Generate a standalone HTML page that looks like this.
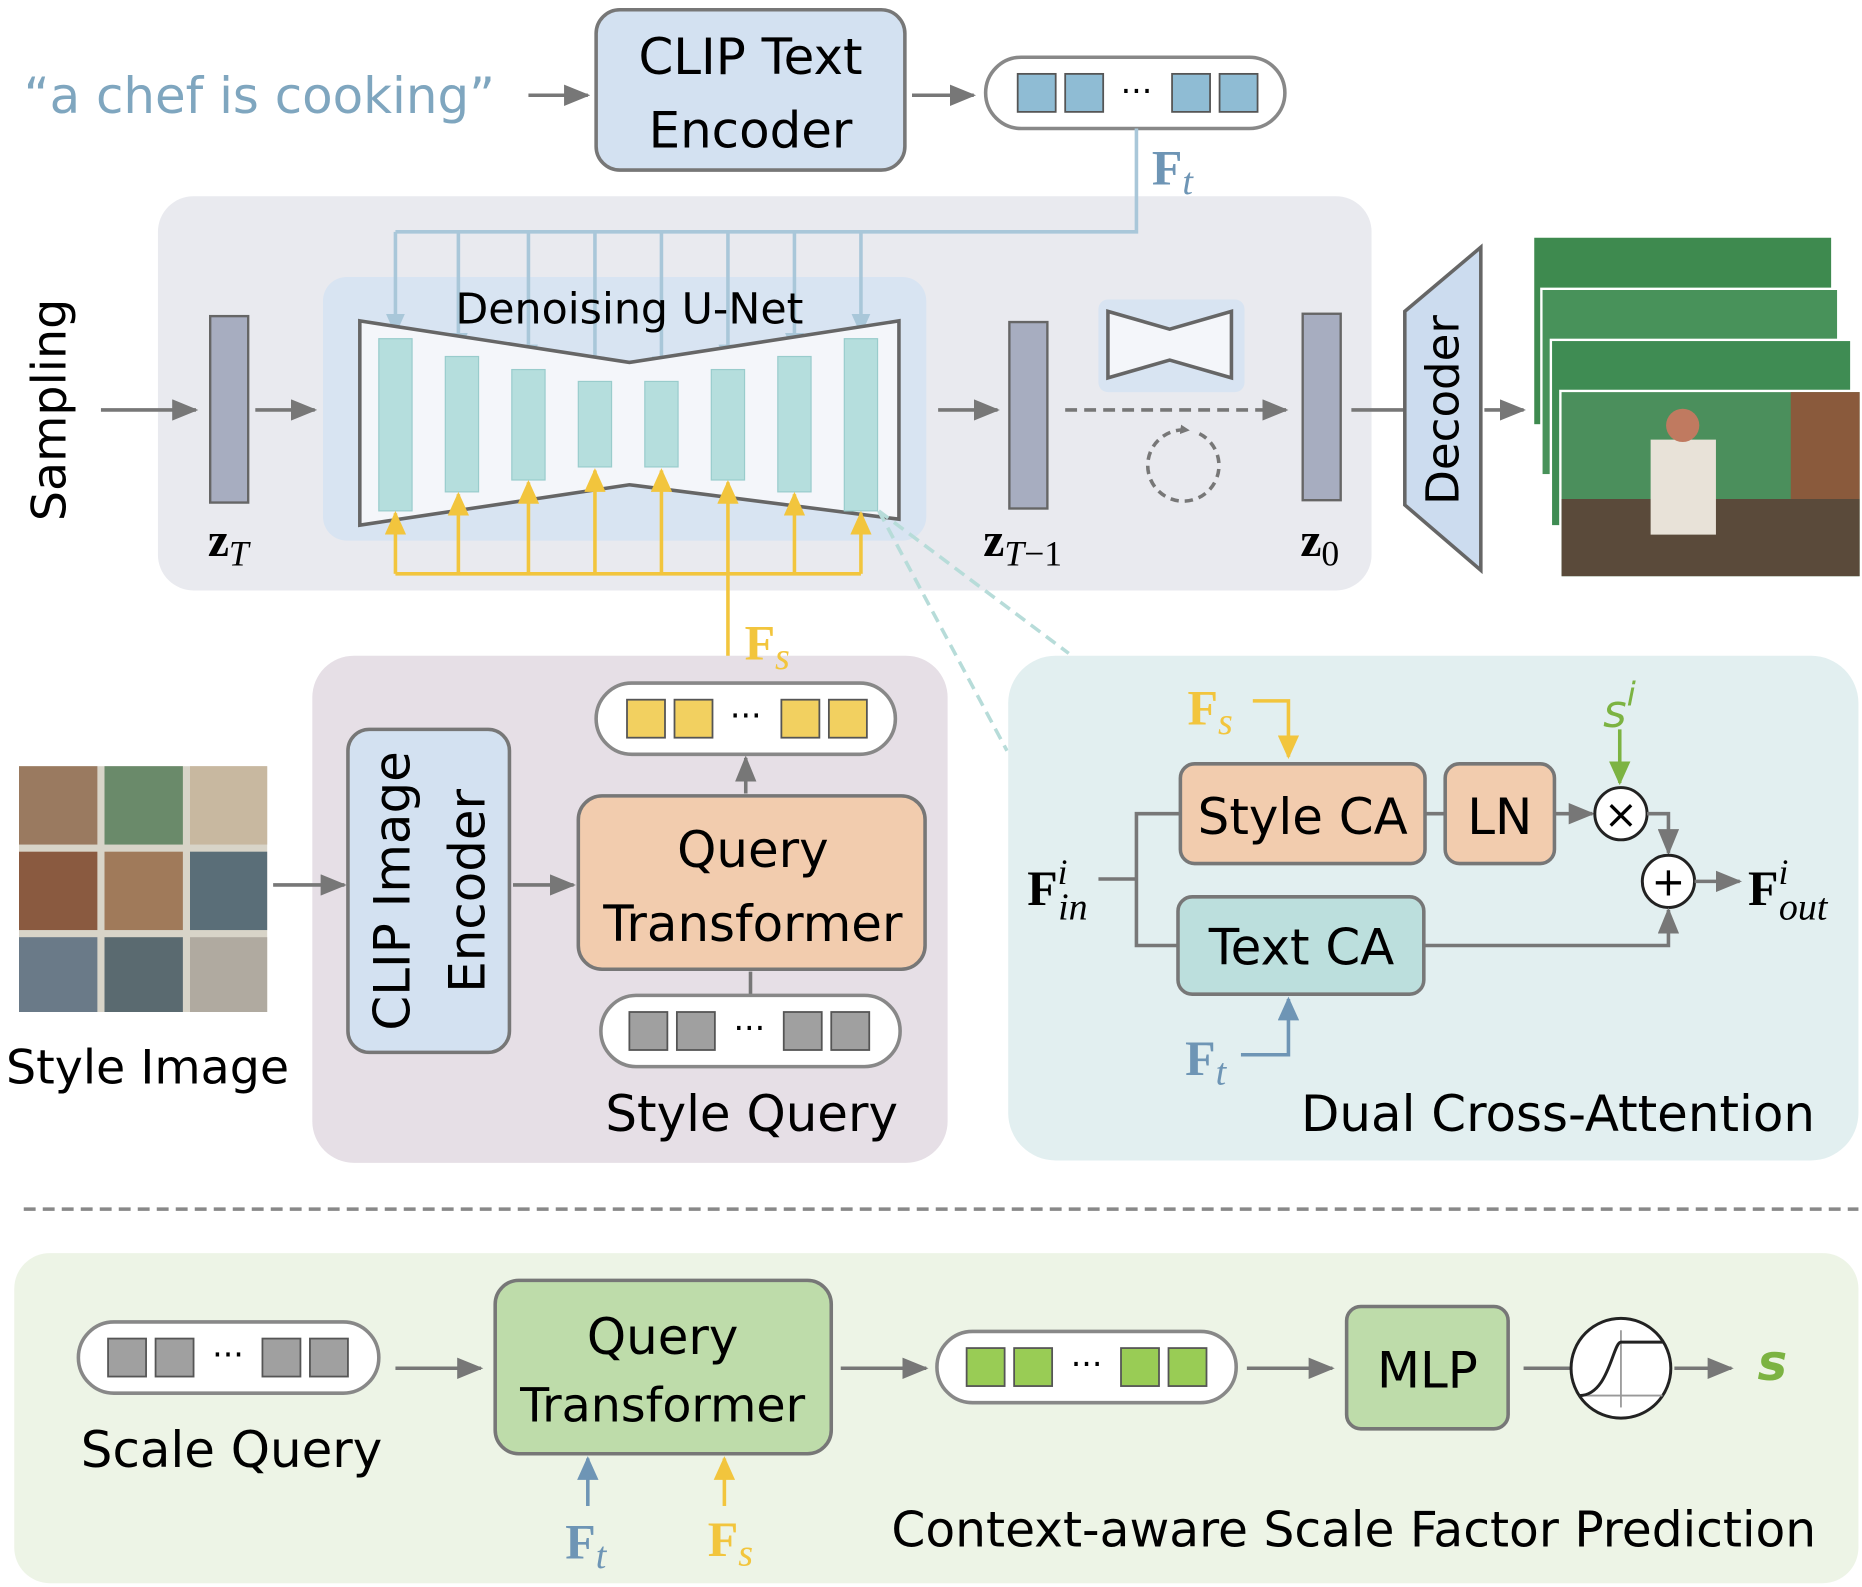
<!DOCTYPE html>
<html><head><meta charset="utf-8"><style>
html,body{margin:0;padding:0;background:#fff}
svg{display:block}
text{font-family:"DejaVu Sans","Liberation Sans",sans-serif}
.s{font-family:"Liberation Serif",serif;font-weight:bold}
</style></head><body>
<svg width="1862" height="1587" viewBox="0 0 1568 1336" xmlns="http://www.w3.org/2000/svg">
<defs>
<marker id="ag" markerWidth="8" markerHeight="8" refX="6" refY="4" orient="auto" markerUnits="userSpaceOnUse" viewBox="0 0 8 8"><path d="M0,0L8,4L0,8z" fill="#777"/></marker>
<marker id="agb" markerWidth="22" markerHeight="18" refX="20" refY="9" orient="auto" markerUnits="userSpaceOnUse"><path d="M0,0L22,9L0,18z" fill="#777"/></marker>
<marker id="ab" markerWidth="18" markerHeight="16" refX="16" refY="8" orient="auto" markerUnits="userSpaceOnUse"><path d="M0,0L18,8L0,16z" fill="#a9c7d9"/></marker>
<marker id="ab2" markerWidth="20" markerHeight="18" refX="18" refY="9" orient="auto" markerUnits="userSpaceOnUse"><path d="M0,0L20,9L0,18z" fill="#6e95b5"/></marker>
<marker id="ay" markerWidth="20" markerHeight="18" refX="18" refY="9" orient="auto" markerUnits="userSpaceOnUse"><path d="M0,0L20,9L0,18z" fill="#f2c53d"/></marker>
<marker id="agr" markerWidth="20" markerHeight="18" refX="18" refY="9" orient="auto" markerUnits="userSpaceOnUse"><path d="M0,0L20,9L0,18z" fill="#7cb342"/></marker>
</defs>

<!-- top -->
<text x="20" y="95" font-size="42" fill="#7fa6bf">“a chef is cooking”</text>
<line x1="445" y1="80" x2="495" y2="80" stroke="#777" stroke-width="3" marker-end="url(#agb)"/>
<rect x="502" y="8" width="260" height="135" rx="20" fill="#d3e1f1" stroke="#777" stroke-width="3"/>
<text x="632" y="62" font-size="42" text-anchor="middle">CLIP Text</text>
<text x="632" y="124" font-size="42" text-anchor="middle">Encoder</text>
<line x1="768" y1="80" x2="820" y2="80" stroke="#777" stroke-width="3" marker-end="url(#agb)"/>
<rect x="830" y="48" width="252" height="60" rx="30" fill="#fff" stroke="#888" stroke-width="3"/>
<g fill="#8fbcd4" stroke="#555" stroke-width="1.5"><rect x="857" y="62" width="32" height="32"/><rect x="897" y="62" width="32" height="32"/><rect x="987" y="62" width="32" height="32"/><rect x="1027" y="62" width="32" height="32"/></g>
<text x="957" y="86" font-size="28" text-anchor="middle">···</text>
<text x="970" y="155" font-size="42" class="s" fill="#6e95b5">F<tspan font-style="italic" font-weight="normal" font-size="32" dy="8">t</tspan></text>

<!-- big grey -->
<rect x="133" y="165" width="1022" height="332" rx="30" fill="#e9eaef"/>
<rect x="272" y="233" width="508" height="222" rx="20" fill="#d8e4f2"/>
<polyline points="957,108 957,195 333,195" fill="none" stroke="#a9c7d9" stroke-width="3"/>
<g stroke="#a9c7d9" stroke-width="3" marker-end="url(#ab)">
<line x1="333" y1="195" x2="333" y2="280"/><line x1="386" y1="195" x2="386" y2="296"/><line x1="445" y1="195" x2="445" y2="306"/><line x1="501" y1="195" x2="501" y2="316"/><line x1="557" y1="195" x2="557" y2="316"/><line x1="613" y1="195" x2="613" y2="306"/><line x1="669" y1="195" x2="669" y2="296"/><line x1="725" y1="195" x2="725" y2="280"/></g>
<text x="530" y="272" font-size="36" text-anchor="middle">Denoising U-Net</text>
<polygon points="303,270 530,305 757,270 757,437 530,408 303,442" fill="#f4f6fa" stroke="#666" stroke-width="3"/>
<g fill="#b5dedd" stroke="#9cc" stroke-width="1">
<rect x="319" y="285" width="28" height="145"/><rect x="375" y="300" width="28" height="114"/><rect x="431" y="311" width="28" height="93"/><rect x="487" y="321" width="28" height="72"/><rect x="543" y="321" width="28" height="72"/><rect x="599" y="311" width="28" height="93"/><rect x="655" y="300" width="28" height="114"/><rect x="711" y="285" width="28" height="145"/></g>
<polyline points="613,575 613,483" fill="none" stroke="#f2c53d" stroke-width="3"/>
<line x1="333" y1="483" x2="725" y2="483" stroke="#f2c53d" stroke-width="3"/>
<g stroke="#f2c53d" stroke-width="3" marker-end="url(#ay)">
<line x1="333" y1="483" x2="333" y2="432"/><line x1="386" y1="483" x2="386" y2="416"/><line x1="445" y1="483" x2="445" y2="406"/><line x1="501" y1="483" x2="501" y2="396"/><line x1="557" y1="483" x2="557" y2="396"/><line x1="613" y1="483" x2="613" y2="406"/><line x1="669" y1="483" x2="669" y2="416"/><line x1="725" y1="483" x2="725" y2="432"/></g>
<text transform="translate(55,345) rotate(-90)" font-size="40" text-anchor="middle">Sampling</text>
<line x1="85" y1="345" x2="165" y2="345" stroke="#777" stroke-width="3" marker-end="url(#agb)"/>
<rect x="177" y="266" width="32" height="157" fill="#a7adc0" stroke="#666" stroke-width="2"/>
<line x1="215" y1="345" x2="265" y2="345" stroke="#777" stroke-width="3" marker-end="url(#agb)"/>
<text x="175" y="468" font-size="40" class="s">z<tspan font-style="italic" font-weight="normal" font-size="30" dy="8">T</tspan></text>
<line x1="790" y1="345" x2="840" y2="345" stroke="#777" stroke-width="3" marker-end="url(#agb)"/>
<rect x="850" y="271" width="32" height="157" fill="#a7adc0" stroke="#666" stroke-width="2"/>
<text x="828" y="468" font-size="40" class="s">z<tspan font-weight="normal" font-size="30" dy="8" font-style="italic">T</tspan><tspan font-weight="normal" font-size="30">−1</tspan></text>
<rect x="925" y="252" width="123" height="78" rx="8" fill="#d8e4f2"/>
<polygon points="933,262 985,277 1037,262 1037,318 985,303 933,318" fill="#f4f6fa" stroke="#666" stroke-width="3"/>
<line x1="897" y1="345" x2="1083" y2="345" stroke="#777" stroke-width="3" stroke-dasharray="10,6" marker-end="url(#agb)"/>
<path d="M1010,365 A30,30 0 1 1 1000,362" fill="none" stroke="#777" stroke-width="3" stroke-dasharray="7,5" marker-end="url(#ag)"/>
<rect x="1097" y="264" width="32" height="157" fill="#a7adc0" stroke="#666" stroke-width="2"/>
<text x="1095" y="468" font-size="40" class="s">z<tspan font-weight="normal" font-size="30" dy="8">0</tspan></text>
<line x1="1138" y1="345" x2="1182" y2="345" stroke="#777" stroke-width="3"/>
<polygon points="1183,262 1247,208 1247,480 1183,425" fill="#ccdcef" stroke="#666" stroke-width="3"/>
<text transform="translate(1228,345) rotate(-90)" font-size="38" text-anchor="middle">Decoder</text>
<line x1="1250" y1="345" x2="1283" y2="345" stroke="#777" stroke-width="3" marker-end="url(#agb)"/>
<g>
<rect x="1292" y="200" width="250" height="157" fill="#3e8a4f"/>
<rect x="1297" y="242" width="250" height="157" fill="#fff"/><rect x="1299" y="244" width="248" height="155" fill="#48925a"/>
<rect x="1305" y="285" width="253" height="157" fill="#fff"/><rect x="1307" y="287" width="251" height="155" fill="#3f8c53"/>
<rect x="1313" y="328" width="253" height="157" fill="#fff"/><rect x="1315" y="330" width="251" height="155" fill="#4b8f5c"/>
<rect x="1315" y="420" width="251" height="65" fill="#5a4a3a"/>
<rect x="1390" y="370" width="55" height="80" fill="#e8e2d8"/>
<circle cx="1417" cy="358" r="14" fill="#c07a60"/>
<rect x="1508" y="330" width="58" height="90" fill="#8a5a3c"/>
</g>
<line x1="740" y1="430" x2="900" y2="550" stroke="#b7dcd9" stroke-width="3" stroke-dasharray="10,6"/>
<line x1="740" y1="430" x2="848" y2="632" stroke="#b7dcd9" stroke-width="3" stroke-dasharray="10,6"/>

<!-- style panel -->
<rect x="263" y="552" width="535" height="427" rx="35" fill="#e6dfe6"/>
<g>
<rect x="16" y="645" width="209" height="207" fill="#d8d4c8"/>
<rect x="16" y="645" width="66" height="66" fill="#9a7a60"/><rect x="88" y="645" width="66" height="66" fill="#6a8a6a"/><rect x="160" y="645" width="65" height="66" fill="#c8b8a0"/>
<rect x="16" y="717" width="66" height="66" fill="#8a5a40"/><rect x="88" y="717" width="66" height="66" fill="#a07a5a"/><rect x="160" y="717" width="65" height="66" fill="#5a6e78"/>
<rect x="16" y="789" width="66" height="63" fill="#6a7a88"/><rect x="88" y="789" width="66" height="63" fill="#5a6a70"/><rect x="160" y="789" width="65" height="63" fill="#b0aaa0"/>
</g>
<text x="5" y="912" font-size="40">Style Image</text>
<line x1="230" y1="745" x2="290" y2="745" stroke="#777" stroke-width="3" marker-end="url(#agb)"/>
<rect x="293" y="614" width="136" height="272" rx="18" fill="#d3e1f1" stroke="#777" stroke-width="3"/>
<text transform="translate(345,750) rotate(-90)" font-size="42" text-anchor="middle">CLIP Image</text>
<text transform="translate(408,750) rotate(-90)" font-size="42" text-anchor="middle">Encoder</text>
<line x1="432" y1="745" x2="483" y2="745" stroke="#777" stroke-width="3" marker-end="url(#agb)"/>
<rect x="487" y="670" width="292" height="146" rx="20" fill="#f2ccae" stroke="#777" stroke-width="3"/>
<text x="634" y="730" font-size="42" text-anchor="middle">Query</text>
<text x="634" y="792" font-size="42" text-anchor="middle">Transformer</text>
<line x1="628" y1="668" x2="628" y2="638" stroke="#777" stroke-width="3" marker-end="url(#agb)"/>
<rect x="502" y="575" width="252" height="60" rx="30" fill="#fff" stroke="#888" stroke-width="3"/>
<g fill="#f2d060" stroke="#555" stroke-width="1.5"><rect x="528" y="589" width="32" height="32"/><rect x="568" y="589" width="32" height="32"/><rect x="658" y="589" width="32" height="32"/><rect x="698" y="589" width="32" height="32"/></g>
<text x="628" y="612" font-size="28" text-anchor="middle">···</text>
<text x="627" y="555" font-size="42" class="s" fill="#f2c53d">F<tspan font-style="italic" font-weight="normal" font-size="32" dy="8">s</tspan></text>
<line x1="632" y1="818" x2="632" y2="838" stroke="#777" stroke-width="3"/>
<rect x="506" y="838" width="252" height="60" rx="30" fill="#fff" stroke="#888" stroke-width="3"/>
<g fill="#a0a0a0" stroke="#555" stroke-width="1.5"><rect x="530" y="852" width="32" height="32"/><rect x="570" y="852" width="32" height="32"/><rect x="660" y="852" width="32" height="32"/><rect x="700" y="852" width="32" height="32"/></g>
<text x="631" y="875" font-size="28" text-anchor="middle">···</text>
<text x="633" y="952" font-size="42" text-anchor="middle">Style Query</text>

<!-- dual CA -->
<rect x="849" y="552" width="716" height="425" rx="40" fill="#e2eff0"/>
<text x="1000" y="610" font-size="42" class="s" fill="#f2c53d">F<tspan font-style="italic" font-weight="normal" font-size="32" dy="8">s</tspan></text>
<polyline points="1055,590 1085,590 1085,637" fill="none" stroke="#f2c53d" stroke-width="3" marker-end="url(#ay)"/>
<rect x="994" y="643" width="206" height="84" rx="12" fill="#f2ccae" stroke="#777" stroke-width="3"/>
<text x="1097" y="702" font-size="42" text-anchor="middle">Style CA</text>
<line x1="1200" y1="685" x2="1217" y2="685" stroke="#777" stroke-width="3"/>
<rect x="1217" y="643" width="92" height="84" rx="12" fill="#f2ccae" stroke="#777" stroke-width="3"/>
<text x="1263" y="702" font-size="42" text-anchor="middle">LN</text>
<text x="1350" y="612" font-size="38" font-style="italic" fill="#7cb342" font-family="Liberation Serif,serif">s<tspan font-size="28" dy="-18">i</tspan></text>
<line x1="1364" y1="614" x2="1364" y2="659" stroke="#7cb342" stroke-width="3" marker-end="url(#agr)"/>
<line x1="1309" y1="685" x2="1341" y2="685" stroke="#777" stroke-width="3" marker-end="url(#agb)"/>
<circle cx="1365" cy="685" r="22" fill="#fff" stroke="#222" stroke-width="2.5"/>
<text x="1365" y="697" font-size="34" text-anchor="middle">×</text>
<polyline points="1387,685 1405,685 1405,718" fill="none" stroke="#777" stroke-width="3" marker-end="url(#agb)"/>
<circle cx="1405" cy="742" r="22" fill="#fff" stroke="#222" stroke-width="2.5"/>
<text x="1405" y="754" font-size="34" text-anchor="middle">+</text>
<rect x="992" y="755" width="207" height="82" rx="12" fill="#bcdfdd" stroke="#777" stroke-width="3"/>
<text x="1096" y="812" font-size="42" text-anchor="middle">Text CA</text>
<polyline points="1200,796 1405,796 1405,766" fill="none" stroke="#777" stroke-width="3" marker-end="url(#agb)"/>
<text x="865" y="762" font-size="42" class="s">F<tspan font-style="italic" font-weight="normal" font-size="30" dy="-18">i</tspan><tspan font-style="italic" font-weight="normal" font-size="32" dx="-8" dy="30">in</tspan></text>
<polyline points="925,740 957,740" fill="none" stroke="#777" stroke-width="3"/>
<polyline points="994,685 957,685 957,796 992,796" fill="none" stroke="#777" stroke-width="3"/>
<text x="998" y="905" font-size="42" class="s" fill="#6e95b5">F<tspan font-style="italic" font-weight="normal" font-size="32" dy="8">t</tspan></text>
<polyline points="1045,888 1085,888 1085,841" fill="none" stroke="#6e95b5" stroke-width="3" marker-end="url(#ab2)"/>
<line x1="1427" y1="742" x2="1465" y2="742" stroke="#777" stroke-width="3" marker-end="url(#agb)"/>
<text x="1472" y="762" font-size="42" class="s">F<tspan font-style="italic" font-weight="normal" font-size="30" dy="-18">i</tspan><tspan font-style="italic" font-weight="normal" font-size="32" dx="-8" dy="30">out</tspan></text>
<text x="1312" y="952" font-size="42" text-anchor="middle">Dual Cross-Attention</text>

<line x1="20" y1="1018" x2="1565" y2="1018" stroke="#888" stroke-width="3" stroke-dasharray="10,6"/>

<!-- bottom -->
<rect x="12" y="1055" width="1553" height="278" rx="30" fill="#edf4e6"/>
<rect x="66" y="1113" width="253" height="60" rx="30" fill="#fff" stroke="#888" stroke-width="3"/>
<g fill="#a0a0a0" stroke="#555" stroke-width="1.5"><rect x="91" y="1127" width="32" height="32"/><rect x="131" y="1127" width="32" height="32"/><rect x="221" y="1127" width="32" height="32"/><rect x="261" y="1127" width="32" height="32"/></g>
<text x="192" y="1150" font-size="28" text-anchor="middle">···</text>
<text x="195" y="1235" font-size="42" text-anchor="middle">Scale Query</text>
<line x1="333" y1="1152" x2="405" y2="1152" stroke="#777" stroke-width="3" marker-end="url(#agb)"/>
<rect x="417" y="1078" width="283" height="146" rx="20" fill="#bedcaa" stroke="#777" stroke-width="3"/>
<text x="558" y="1140" font-size="42" text-anchor="middle">Query</text>
<text x="558" y="1197" font-size="40" text-anchor="middle">Transformer</text>
<line x1="495" y1="1268" x2="495" y2="1228" stroke="#6e95b5" stroke-width="3" marker-end="url(#ab2)"/>
<line x1="610" y1="1268" x2="610" y2="1228" stroke="#f2c53d" stroke-width="3" marker-end="url(#ay)"/>
<text x="476" y="1312" font-size="42" class="s" fill="#6e95b5">F<tspan font-style="italic" font-weight="normal" font-size="32" dy="8">t</tspan></text>
<text x="596" y="1310" font-size="42" class="s" fill="#f2c53d">F<tspan font-style="italic" font-weight="normal" font-size="32" dy="8">s</tspan></text>
<line x1="708" y1="1152" x2="780" y2="1152" stroke="#777" stroke-width="3" marker-end="url(#agb)"/>
<rect x="789" y="1121" width="252" height="60" rx="30" fill="#fff" stroke="#888" stroke-width="3"/>
<g fill="#99cc55" stroke="#555" stroke-width="1.5"><rect x="814" y="1135" width="32" height="32"/><rect x="854" y="1135" width="32" height="32"/><rect x="944" y="1135" width="32" height="32"/><rect x="984" y="1135" width="32" height="32"/></g>
<text x="915" y="1158" font-size="28" text-anchor="middle">···</text>
<line x1="1050" y1="1152" x2="1122" y2="1152" stroke="#777" stroke-width="3" marker-end="url(#agb)"/>
<rect x="1134" y="1100" width="136" height="103" rx="12" fill="#bedcaa" stroke="#777" stroke-width="3"/>
<text x="1202" y="1168" font-size="42" text-anchor="middle">MLP</text>
<line x1="1283" y1="1152" x2="1322" y2="1152" stroke="#777" stroke-width="3"/>
<circle cx="1365" cy="1152" r="42" fill="#fff" stroke="#222" stroke-width="2.5"/>
<line x1="1330" y1="1175" x2="1400" y2="1175" stroke="#999" stroke-width="1.5"/>
<line x1="1365" y1="1120" x2="1365" y2="1185" stroke="#999" stroke-width="1.5"/>
<path d="M1330,1175 C1355,1175 1358,1130 1365,1130 L1400,1130" fill="none" stroke="#222" stroke-width="2.5"/>
<line x1="1410" y1="1152" x2="1458" y2="1152" stroke="#777" stroke-width="3" marker-end="url(#agb)"/>
<text x="1480" y="1162" font-size="42" font-style="italic" font-weight="bold" fill="#7cb342" font-family="Liberation Serif,serif">s</text>
<text x="1140" y="1302" font-size="41" text-anchor="middle">Context-aware Scale Factor Prediction</text>
</svg>
</body></html>
